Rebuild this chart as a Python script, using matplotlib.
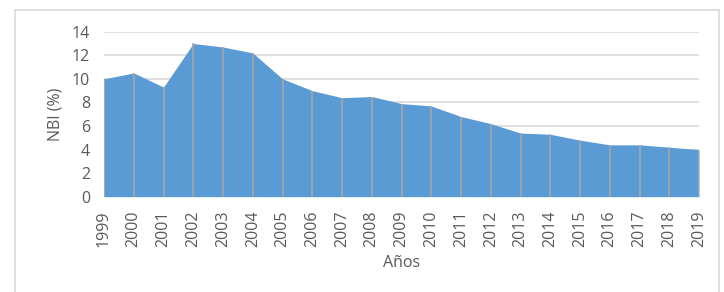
import matplotlib
matplotlib.use("Agg")
import matplotlib.pyplot as plt
from matplotlib.patches import Rectangle

# data
years = list(range(1999, 2020))
nbi = [10.0, 10.5, 9.3, 13.0, 12.7, 12.2, 10.0, 9.0, 8.4, 8.5, 7.9,
       7.7, 6.8, 6.2, 5.4, 5.3, 4.8, 4.4, 4.4, 4.2, 4.0]
yticks = [0, 2, 4, 6, 8, 10, 12, 14]

plt.rcParams['font.family'] = ['Open Sans', 'DejaVu Sans']
txt = '#595959'

fig = plt.figure(figsize=(7.24, 2.92), dpi=100)
ax = fig.add_axes([104/724, 1 - 196.7/292, (699 - 104)/724, (196.7 - 31.7)/292])

# outer chart border
fig.patches.append(Rectangle((15/724, -0.1), (719 - 15)/724, 1.1 - 10/292,
                             transform=fig.transFigure, fill=False,
                             edgecolor='#d9d9d9', linewidth=1.2))

ax.fill_between(years, nbi, 0, color='#5b9bd5', linewidth=0, zorder=2)
ax.vlines(years, 0, nbi, color='#a5a5a5', linewidth=1.2, zorder=3)

ax.set_xlim(years[0], years[-1])
ax.set_ylim(0, 14)
ax.set_yticks(yticks)
ax.set_xticks(years)
ax.set_xticklabels([str(y) for y in years], rotation=90)
ax.grid(axis='y', color='#d9d9d9', linewidth=1.2, zorder=0)
ax.set_axisbelow(True)
for s in ax.spines.values():
    s.set_visible(False)
ax.tick_params(length=0, colors=txt, labelsize=11.5)
ax.tick_params(axis='y', pad=10)
ax.tick_params(axis='x', pad=10)

ax.set_ylabel('NBI (%)', color=txt, fontsize=11.5, labelpad=6)
ax.set_xlabel('Años', color=txt, fontsize=11.5, labelpad=6)

fig.savefig('out.png', dpi=100)
